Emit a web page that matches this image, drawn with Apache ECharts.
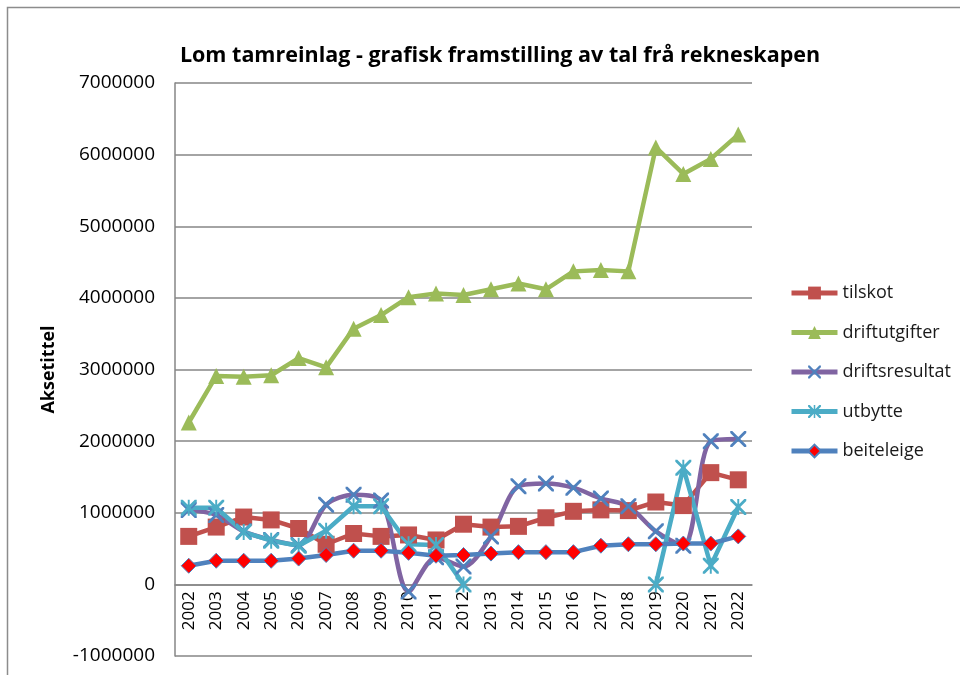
<!DOCTYPE html>
<html>
<head>
<meta charset="utf-8">
<script src="https://cdn.jsdelivr.net/npm/echarts@6/dist/echarts.min.js"></script>
<style>html,body{margin:0;padding:0;background:#fff}#c{width:960px;height:675px}</style>
</head>
<body>
<div id="c"></div>
<script>
const years = ['2002','2003','2004','2005','2006','2007','2008','2009','2010','2011','2012','2013','2014','2015','2016','2017','2018','2019','2020','2021','2022'];
const tilskot = [670000, 800000, 940000, 900000, 780000, 560000, 710000, 670000, 690000, 620000, 840000, 800000, 810000, 930000, 1020000, 1040000, 1030000, 1150000, 1100000, 1560000, 1460000];
const driftutgifter = [2260000, 2910000, 2900000, 2920000, 3160000, 3030000, 3570000, 3760000, 4010000, 4060000, 4040000, 4120000, 4200000, 4120000, 4370000, 4390000, 4370000, 6100000, 5730000, 5940000, 6280000];
const driftsresultat = [1040000, 970000, 740000, 620000, 550000, 1110000, 1250000, 1170000, -100000, 380000, 250000, 670000, 1370000, 1410000, 1350000, 1200000, 1090000, 740000, 540000, 2000000, 2030000];
const utbytte = [1070000, 1070000, 730000, 610000, 540000, 750000, 1090000, 1090000, 560000, 550000, 0, null, null, null, null, null, null, 0, 1630000, 260000, 1080000];
const beiteleige = [260000, 330000, 330000, 330000, 360000, 410000, 470000, 470000, 440000, 400000, 410000, 430000, 450000, 450000, 450000, 540000, 560000, 560000, 570000, 570000, 670000];
const yTicks = {min: -1000000, max: 7000000, interval: 1000000};

const FONT = 'Open Sans';
const xPath = 'path://M0,0 L2.5,0 L10,7.5 L17.5,0 L20,0 L20,2.5 L12.5,10 L20,17.5 L20,20 L17.5,20 L10,12.5 L2.5,20 L0,20 L0,17.5 L7.5,10 L0,2.5 Z';
const starPath = xPath + ' M8.8,0 L11.2,0 L11.2,20 L8.8,20 Z';

const chart = echarts.init(document.getElementById('c'), null, {renderer: 'canvas'});
chart.setOption({
  backgroundColor: '#fff',
  animation: false,
  title: {
    text: 'Lom tamreinlag - grafisk framstilling av tal frå rekneskapen',
    left: 495, top: 40, textAlign: 'center',
    textStyle: {fontFamily: FONT, fontWeight: 'bold', fontSize: 21.5, color: '#000'}
  },
  graphic: [{
    type: 'rect', shape: {x: 7.5, y: 7.5, width: 1100, height: 1100},
    style: {fill: 'none', stroke: '#8c8c8c', lineWidth: 1.5}, silent: true
  }],
  legend: {
    orient: 'vertical', left: 784, top: 279,
    itemWidth: 46, itemHeight: 16, itemGap: 21.5,
    lineStyle: {width: 5},
    textStyle: {fontFamily: FONT, fontSize: 18, color: '#1a1a1a'},
    data: ['tilskot','driftutgifter','driftsresultat','utbytte','beiteleige']
  },
  grid: {left: 175, top: 83, right: 208, bottom: 19, outerBoundsMode: 'none', containLabel: false},
  xAxis: {
    type: 'category', data: years, boundaryGap: true, position: 'bottom', offset: 0,
    axisLine: {onZero: false, lineStyle: {color: '#868686', width: 1.5}},
    axisTick: {show: false},
    axisLabel: {rotate: 90, interval: 0, margin: 7, fontFamily: FONT, fontSize: 17, color: '#000'}
  },
  yAxis: {
    type: 'value', min: yTicks.min, max: yTicks.max, interval: yTicks.interval,
    name: 'Aksetittel', nameLocation: 'middle', nameGap: 117, nameRotate: 90,
    nameTextStyle: {fontFamily: FONT, fontWeight: 'bold', fontSize: 18, color: '#000'},
    axisLine: {show: true, onZero: false, lineStyle: {color: '#868686', width: 1.5}},
    axisTick: {show: false},
    axisLabel: {margin: 20, fontFamily: FONT, fontSize: 19, color: '#000', formatter: v => String(v)},
    splitLine: {lineStyle: {color: '#868686', width: 1.5}}
  },
  series: [
    {name: 'tilskot', type: 'line', data: tilskot, symbol: 'rect', symbolSize: 17,
     itemStyle: {color: '#C0504D'}, lineStyle: {color: '#C0504D', width: 4.5}},
    {name: 'driftutgifter', type: 'line', data: driftutgifter, symbol: 'triangle', symbolSize: 16,
     itemStyle: {color: '#9BBB59'}, lineStyle: {color: '#9BBB59', width: 4.5}},
    {name: 'driftsresultat', type: 'line', data: driftsresultat, symbol: xPath, symbolSize: 16, smooth: 0.3,
     itemStyle: {color: '#4F81BD'}, lineStyle: {color: '#8064A2', width: 4.5}},
    {name: 'utbytte', type: 'line', data: utbytte, symbol: starPath, symbolSize: 16, connectNulls: false,
     itemStyle: {color: '#4BACC6'}, lineStyle: {color: '#4BACC6', width: 4.5}},
    {name: 'beiteleige', type: 'line', data: beiteleige, symbol: 'diamond', symbolSize: 15,
     itemStyle: {color: '#FF0000', borderColor: '#4F81BD', borderWidth: 1}, lineStyle: {color: '#4F81BD', width: 4.5}}
  ]
});
// Place the category axis on the zero line of the value axis
const pxZero = chart.convertToPixel({yAxisIndex: 0}, 0);
const pxMin = chart.convertToPixel({yAxisIndex: 0}, yTicks.min);
chart.setOption({xAxis: {offset: pxZero - pxMin}});
</script>
</body>
</html>
